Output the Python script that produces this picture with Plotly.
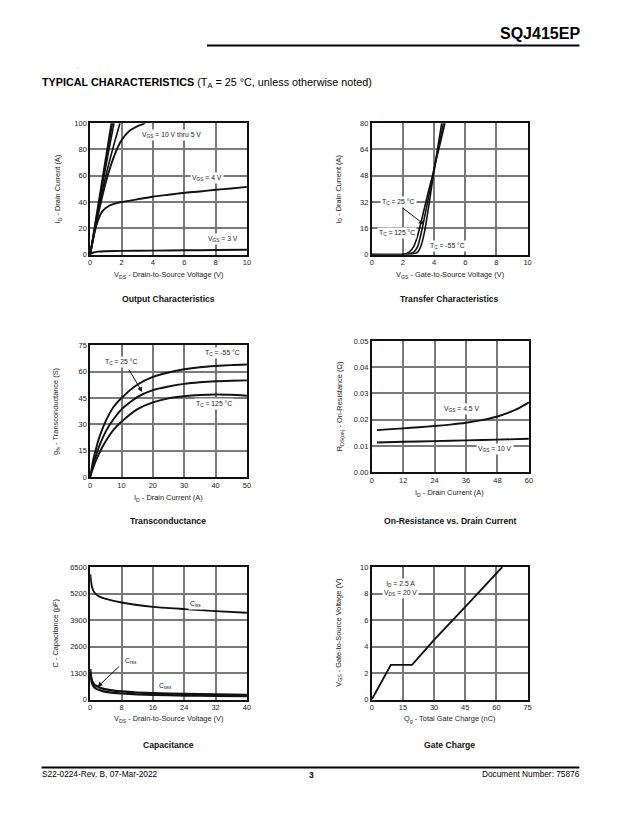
import plotly.graph_objects as go
from plotly.subplots import make_subplots

W, H = 625, 823

# Output characteristics (ID vs VDS)
out_vgs_bundle = {
    "10V": ([0, 1.35], [0, 100]),
    "8V": ([0, 1.42], [0, 100]),
    "7V": ([0, 0.7, 1.52], [0, 48, 100]),
    "6V": ([0, 0.5, 1.0, 1.5, 1.9], [0, 32, 60, 83, 100]),
}
out_vgs5_x = [0, 0.25, 0.5, 1.0, 1.5, 2.0, 2.5, 3.0, 3.5]
out_vgs5_y = [0, 16, 30, 55, 74, 87, 94, 97.5, 100]
out_vgs4_x = [0, 0.25, 0.5, 0.75, 1.0, 1.5, 2, 3, 4, 5, 6, 7, 8, 9, 10]
out_vgs4_y = [0, 15, 26, 32.5, 35.5, 38.5, 40, 42, 44, 45.5, 47, 48, 49.3, 50.3, 51.5]
out_vgs3_x = [0, 0.2, 0.5, 1, 2, 4, 6, 8, 10]
out_vgs3_y = [0, 1.5, 2.2, 2.5, 2.8, 3.0, 3.2, 3.4, 3.6]

# Transfer characteristics (ID vs VGS)
tr_125_x = [0, 2.0, 2.4, 2.7, 2.9, 3.07, 3.3, 3.6, 3.92, 4.3, 4.7]
tr_125_y = [0, 0.2, 1.5, 5, 10, 16, 25, 37, 49, 64, 80]
tr_25_x = [0, 2.3, 2.7, 2.95, 3.1, 3.24, 3.5, 3.92, 4.25, 4.6]
tr_25_y = [0, 0.2, 1.5, 5, 10, 16, 28, 48, 64, 80]
tr_m55_x = [0, 2.6, 2.95, 3.15, 3.3, 3.43, 3.65, 3.92, 4.2, 4.49]
tr_m55_y = [0, 0.2, 1.5, 5, 10, 16, 29, 46, 63, 80]

# Transconductance (gfs vs ID)
gfs_x = [0, 0.5, 1, 2, 3, 5, 7.5, 10, 15, 20, 25, 30, 35, 40, 45, 50]
gfs_m55 = [0, 5, 10, 17, 23, 32, 40, 45, 52.5, 57, 59.5, 61.3, 62.5, 63.2, 63.7, 64]
gfs_25 = [0, 4, 7.5, 13, 18, 26, 33, 38.5, 45.5, 49.5, 51.5, 53, 53.9, 54.5, 54.8, 55]
gfs_125 = [0, 3, 5.5, 10, 14, 20.5, 27, 31.5, 38.5, 42.5, 44.8, 46, 46.7, 47, 46.8, 46.3]

# On-resistance vs drain current
ron45_x = [2, 6, 12, 18, 24, 30, 36, 42, 48, 52, 56, 60]
ron45_y = [0.0160, 0.0163, 0.0167, 0.0171, 0.0176, 0.0181, 0.0188, 0.0198, 0.0212, 0.0226, 0.0243, 0.0266]
ron10_x = [2, 12, 24, 36, 48, 60]
ron10_y = [0.0113, 0.0116, 0.0118, 0.0121, 0.0124, 0.0127]

# Capacitance
cap_x = [0.05, 0.2, 0.5, 1, 1.5, 2, 3, 4, 6, 8, 12, 16, 24, 32, 40]
ciss = [6150, 5850, 5500, 5280, 5170, 5090, 5000, 4940, 4840, 4760, 4640, 4550, 4440, 4340, 4260]
coss = [1500, 1200, 920, 760, 680, 630, 550, 500, 440, 400, 350, 320, 280, 255, 230]
crss = [1350, 1050, 780, 620, 540, 490, 420, 380, 330, 300, 260, 235, 200, 180, 165]

# Gate charge
qg_x = [0, 9.2, 19.4, 30, 45, 62.8]
qg_y = [0, 2.62, 2.62, 4.5, 7, 10]

FONT = "Liberation Sans, Arial, sans-serif"
BLACK = "#111111"


def px(x):
    return x / W


def py(y):
    return 1 - y / H


fig = make_subplots(rows=3, cols=2)

# plot areas in page pixels: (left, right, top, bottom)
areas = [
    (89, 247.3, 120.5, 253.3),
    (373.3, 530.7, 120.5, 253.3),
    (89, 247.3, 345, 478.3),
    (373.3, 532, 340.7, 473.3),
    (89, 247.3, 569.3, 703.3),
    (373.3, 530.7, 569.3, 703.3),
]
ranges = [
    ((0, 10), (0, 100), [0, 2, 4, 6, 8, 10], [0, 20, 40, 60, 80, 100]),
    ((0, 10), (0, 80), [0, 2, 4, 6, 8, 10], [0, 16, 32, 48, 64, 80]),
    ((0, 50), (0, 75), [0, 10, 20, 30, 40, 50], [0, 15, 30, 45, 60, 75]),
    ((0, 60), (0, 0.05), [0, 12, 24, 36, 48, 60], [0, 0.01, 0.02, 0.03, 0.04, 0.05]),
    ((0, 40), (0, 6500), [0, 8, 16, 24, 32, 40], [0, 1300, 2600, 3900, 5200, 6500]),
    ((0, 75), (0, 10), [0, 15, 30, 45, 60, 75], [0, 2, 4, 6, 8, 10]),
]

for i, (area, rg) in enumerate(zip(areas, ranges)):
    l, r, t, b = area
    n = "" if i == 0 else str(i + 1)
    yfmt = ".2f" if i == 3 else ""
    fig.layout["xaxis" + n].update(
        domain=[px(l), px(r)], range=list(rg[0]), tickvals=rg[2],
        showgrid=True, gridcolor="#7a7a7a", gridwidth=1.5,
        showline=True, mirror=True, linecolor=BLACK, linewidth=1.6,
        zeroline=False, ticks="", tickfont=dict(size=7.5, color="#222", family=FONT),
        ticklen=0, fixedrange=True,
    )
    fig.layout["yaxis" + n].update(
        domain=[py(b), py(t)], range=list(rg[1]), tickvals=rg[3],
        tickformat=yfmt,
        showgrid=True, gridcolor="#7a7a7a", gridwidth=1.5,
        showline=True, mirror=True, linecolor=BLACK, linewidth=1.6,
        zeroline=False, ticks="", tickfont=dict(size=7.5, color="#222", family=FONT),
        fixedrange=True,
    )


def line(x, y, row, col, w=1.9):
    fig.add_trace(go.Scatter(x=x, y=y, mode="lines", line=dict(color=BLACK, width=w, shape="spline", smoothing=0.6),
                             showlegend=False, hoverinfo="skip"), row=row, col=col)


# 1 output characteristics
for k, (xs, ys) in out_vgs_bundle.items():
    line(xs, ys, 1, 1, 1.6)
line(out_vgs5_x, out_vgs5_y, 1, 1)
line(out_vgs4_x, out_vgs4_y, 1, 1)
line(out_vgs3_x, out_vgs3_y, 1, 1)
# 2 transfer
line(tr_125_x, tr_125_y, 1, 2, 1.6)
line(tr_25_x, tr_25_y, 1, 2, 1.6)
line(tr_m55_x, tr_m55_y, 1, 2, 1.6)
# 3 transconductance
line(gfs_x, gfs_m55, 2, 1)
line(gfs_x, gfs_25, 2, 1)
line(gfs_x, gfs_125, 2, 1)
# 4 on-resistance
line(ron45_x, ron45_y, 2, 2)
line(ron10_x, ron10_y, 2, 2)
# 5 capacitance
line(cap_x, ciss, 3, 1)
line(cap_x, coss, 3, 1, 2.2)
line(cap_x, crss, 3, 1, 2.2)
# 6 gate charge
fig.add_trace(go.Scatter(x=qg_x, y=qg_y, mode="lines", line=dict(color=BLACK, width=1.9),
                         showlegend=False, hoverinfo="skip"), row=3, col=2)

ann = []


def label(text, x, y, n, xanchor="left", size=6.8):
    ann.append(dict(text=text, x=x, y=y, xref="x" + n, yref="y" + n, showarrow=False,
                    xanchor=xanchor, yanchor="middle", bgcolor="white", borderpad=1,
                    font=dict(size=size, color="#222", family=FONT)))


def arrow(x, y, ax, ay, n):
    ann.append(dict(text="", x=x, y=y, ax=ax, ay=ay, xref="x" + n, yref="y" + n,
                    axref="x" + n, ayref="y" + n, showarrow=True, arrowhead=2,
                    arrowsize=1, arrowwidth=1, arrowcolor=BLACK))


label("V<sub>GS</sub> = 10 V thru 5 V", 3.2, 91, "")
label("V<sub>GS</sub> = 4 V", 6.4, 58, "")
label("V<sub>GS</sub> = 3 V", 7.4, 12, "")

label("T<sub>C</sub> = 25 °C", 0.5, 32, "2")
arrow(3.35, 18.4, 1.9, 29, "2")
label("T<sub>C</sub> = 125 °C", 0.35, 13, "2")
label("T<sub>C</sub> = -55 °C", 3.6, 5, "2")

label("T<sub>C</sub> = -55 °C", 36, 70.3, "3")
label("T<sub>C</sub> = 25 °C", 4, 65.6, "3")
arrow(16.6, 48.4, 12.1, 61.9, "3")
label("T<sub>C</sub> = 125 °C", 33, 41.6, "3")

label("V<sub>GS</sub> = 4.5 V", 26.7, 0.0239, "4")
label("V<sub>GS</sub> = 10 V", 40, 0.0088, "4")

label("C<sub>iss</sub>", 25, 4710, "5")
label("C<sub>rss</sub>", 8.4, 1870, "5")
arrow(1.9, 620, 7.8, 1700, "5")
label("C<sub>oss</sub>", 17, 650, "5")

label("I<sub>D</sub> = 2.5 A<br>V<sub>DS</sub> = 20 V", 5, 8.35, "6")


def text(t, x, y, size=7.4, bold=False, xanchor="center", angle=0, color="#222"):
    if bold:
        t = "<b>" + t + "</b>"
    ann.append(dict(text=t, x=px(x), y=py(y), xref="paper", yref="paper", showarrow=False,
                    xanchor=xanchor, yanchor="middle", textangle=angle,
                    font=dict(size=size, color=color, family=FONT)))


# axis titles
text("V<sub>DS</sub> - Drain-to-Source Voltage (V)", 168, 274)
text("I<sub>D</sub> - Drain Current (A)", 57, 187, angle=-90)
text("V<sub>GS</sub> - Gate-to-Source Voltage (V)", 452, 274)
text("I<sub>D</sub> - Drain Current (A)", 340, 187, angle=-90)
text("I<sub>D</sub> - Drain Current (A)", 168, 499)
text("g<sub>fs</sub> - Transconductance (S)", 55, 412, angle=-90)
text("I<sub>D</sub> - Drain Current (A)", 452, 494)
text("R<sub>DS(on)</sub> - On-Resistance (Ω)", 341, 407, angle=-90)
text("V<sub>DS</sub> - Drain-to-Source Voltage (V)", 168, 723)
text("C - Capacitance (pF)", 54, 636, angle=-90)
text("Q<sub>g</sub> - Total Gate Charge (nC)", 452, 723)
text("V<sub>GS</sub> - Gate-to-Source Voltage (V)", 340, 636, angle=-90)

# chart titles
text("Output Characteristics", 168, 298, size=8.6, bold=True, color="#111")
text("Transfer Characteristics", 452, 298, size=8.6, bold=True, color="#111")
text("Transconductance", 168, 523, size=8.6, bold=True, color="#111")
text("On-Resistance vs. Drain Current", 452, 523, size=8.6, bold=True, color="#111")
text("Capacitance", 168, 749, size=8.6, bold=True, color="#111")
text("Gate Charge", 452, 749, size=8.6, bold=True, color="#111")

# page header / footer
text("SQJ415EP", 586, 30, size=16, bold=True, xanchor="right", color="#000")
text(".", 74, 63, size=6, color="#5b7fb0", xanchor="left")
text("<b>TYPICAL CHARACTERISTICS</b> (T<sub>A</sub> = 25 °C, unless otherwise noted)", 38, 80,
     size=10.8, xanchor="left", color="#000")
text("S22-0224-Rev. B, 07-Mar-2022", 38, 779, size=8.3, xanchor="left", color="#000")
text("3", 312, 780, size=8.5, bold=True, color="#000")
text("Document Number: 75876", 586, 779, size=8.3, xanchor="right", color="#000")

shapes = [
    dict(type="line", xref="paper", yref="paper", x0=px(207), x1=px(583), y0=py(42), y1=py(42),
         line=dict(color="#000", width=2)),
    dict(type="line", xref="paper", yref="paper", x0=px(40), x1=px(583), y0=py(772), y1=py(772),
         line=dict(color="#000", width=2)),
]

fig.update_layout(
    width=W, height=H, margin=dict(l=0, r=0, t=0, b=0),
    paper_bgcolor="white", plot_bgcolor="white",
    annotations=ann, shapes=shapes, showlegend=False,
    font=dict(family=FONT),
)

# page body margin would shift the fixed-size figure
fig.write_html("out.html", config={"displayModeBar": False},
               post_script="document.body.style.margin='0';document.body.style.overflow='hidden';")
